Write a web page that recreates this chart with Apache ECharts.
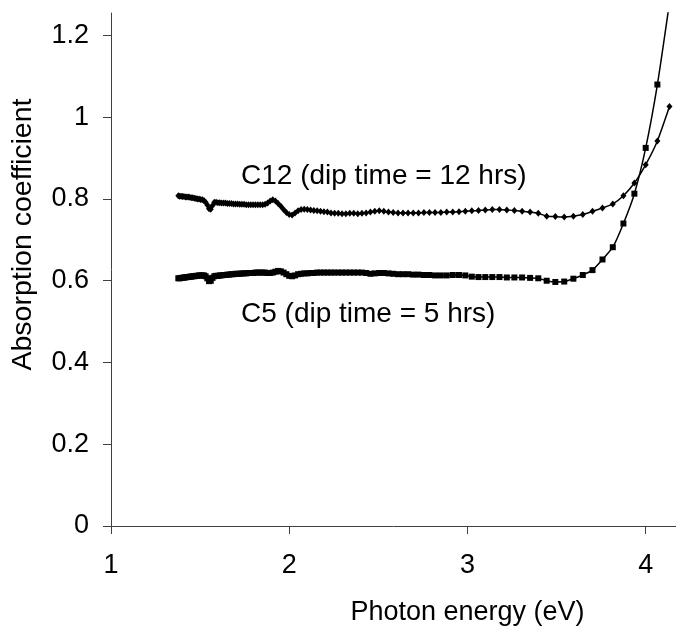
<!DOCTYPE html>
<html>
<head>
<meta charset="utf-8">
<script src="https://cdn.jsdelivr.net/npm/echarts@6/dist/echarts.min.js"></script>
<style>
html, body { margin: 0; padding: 0; background: #fff; }
#main { width: 676px; height: 631px; }
</style>
</head>
<body>
<div id="main"></div>
<script>
// measured wavelengths (nm), 5 nm steps, converted to photon energy E = 1240 / λ
const wavelengthNm = [
  900, 895, 890, 885, 880, 875, 870, 865, 860, 855,
  850, 845, 840, 835, 830, 825, 820, 815, 810, 805,
  800, 795, 790, 785, 780, 775, 770, 765, 760, 755,
  750, 745, 740, 735, 730, 725, 720, 715, 710, 705,
  700, 695, 690, 685, 680, 675, 670, 665, 660, 655,
  650, 645, 640, 635, 630, 625, 620, 615, 610, 605,
  600, 595, 590, 585, 580, 575, 570, 565, 560, 555,
  550, 545, 540, 535, 530, 525, 520, 515, 510, 505,
  500, 495, 490, 485, 480, 475, 470, 465, 460, 455,
  450, 445, 440, 435, 430, 425, 420, 415, 410, 405,
  400, 395, 390, 385, 380, 375, 370, 365, 360, 355,
  350, 345, 340, 335, 330, 325, 320, 315, 310, 305,
  300
];

// C12 (dip time = 12 hrs)
const c12 = [
  0.808, 0.807, 0.807, 0.806, 0.806, 0.805, 0.805, 0.805, 0.804, 0.803,
  0.803, 0.802, 0.801, 0.800, 0.800, 0.799, 0.798, 0.796, 0.792, 0.785,
  0.776, 0.775, 0.784, 0.792, 0.792, 0.791, 0.791, 0.790, 0.790, 0.790,
  0.789, 0.789, 0.789, 0.788, 0.788, 0.788, 0.787, 0.787, 0.787, 0.786,
  0.786, 0.786, 0.786, 0.786, 0.786, 0.786, 0.786, 0.787, 0.790, 0.795,
  0.798, 0.795, 0.789, 0.782, 0.774, 0.767, 0.762, 0.761, 0.766, 0.771,
  0.774, 0.775, 0.774, 0.773, 0.772, 0.771, 0.770, 0.769, 0.768, 0.766,
  0.765, 0.765, 0.764, 0.764, 0.765, 0.765, 0.764, 0.765, 0.766, 0.768,
  0.770, 0.771, 0.770, 0.768, 0.767, 0.766, 0.766, 0.766, 0.766, 0.766,
  0.767, 0.767, 0.767, 0.767, 0.768, 0.768, 0.769, 0.770, 0.771, 0.772,
  0.773, 0.774, 0.774, 0.773, 0.772, 0.770, 0.768, 0.765, 0.758, 0.757,
  0.756, 0.758, 0.762, 0.770, 0.778, 0.788, 0.808, 0.839, 0.884, 0.942,
  1.026
];

// C5 (dip time = 5 hrs)
const c5 = [
  0.606, 0.606, 0.607, 0.607, 0.608, 0.608, 0.609, 0.609, 0.610, 0.610,
  0.611, 0.611, 0.612, 0.612, 0.613, 0.613, 0.613, 0.613, 0.611, 0.606,
  0.599, 0.600, 0.607, 0.611, 0.612, 0.612, 0.613, 0.613, 0.614, 0.614,
  0.615, 0.615, 0.616, 0.616, 0.617, 0.617, 0.617, 0.618, 0.618, 0.618,
  0.619, 0.619, 0.619, 0.620, 0.620, 0.620, 0.620, 0.620, 0.619, 0.619,
  0.620, 0.622, 0.624, 0.623, 0.620, 0.616, 0.612, 0.611, 0.613, 0.616,
  0.617, 0.618, 0.618, 0.619, 0.619, 0.620, 0.620, 0.620, 0.620, 0.620,
  0.620, 0.620, 0.620, 0.620, 0.620, 0.620, 0.620, 0.620, 0.619, 0.617,
  0.618, 0.619, 0.619, 0.618, 0.617, 0.616, 0.616, 0.616, 0.615, 0.615,
  0.614, 0.614, 0.613, 0.613, 0.613, 0.614, 0.614, 0.613, 0.610, 0.609,
  0.609, 0.609, 0.609, 0.608, 0.608, 0.608, 0.607, 0.606, 0.600, 0.597,
  0.598, 0.605, 0.614, 0.626, 0.652, 0.682, 0.740, 0.813, 0.925, 1.080,
  1.280
];

const xTicks = [1, 2, 3, 4];
const yTicks = [0, 0.2, 0.4, 0.6, 0.8, 1, 1.2];

const energy = wavelengthNm.map((w) => 1240 / w);
const pairs = (ys) => ys.map((y, i) => [energy[i], y]);

const font = "'Liberation Sans', Arial, sans-serif";
const axisColor = "#404040";

const myChart = echarts.init(document.getElementById("main"));
const option = {
  backgroundColor: "#fff",
  animation: false,
  grid: { left: 111, right: 0, top: 13, bottom: 102 },
  xAxis: {
    type: "value",
    min: 1,
    max: 4.17,
    name: "Photon energy (eV)",
    nameLocation: "middle",
    nameGap: 73,
    nameTextStyle: { fontFamily: font, fontSize: 27, color: "#000", padding: [0, 0, 0, 148] },
    splitLine: { show: false },
    axisLine: { lineStyle: { color: axisColor, width: 1 } },
    axisTick: { customValues: xTicks, length: 8, lineStyle: { color: axisColor } },
    axisLabel: { customValues: xTicks, margin: 26, fontFamily: font, fontSize: 27, color: "#000" },
  },
  yAxis: {
    type: "value",
    min: 0,
    max: 1.255,
    name: "Absorption coefficient",
    nameLocation: "middle",
    nameGap: 73,
    nameTextStyle: { fontFamily: font, fontSize: 28.5, color: "#000", padding: [0, 0, 0, 70] },
    splitLine: { show: false },
    axisLine: { show: true, lineStyle: { color: axisColor, width: 1 } },
    axisTick: { show: true, customValues: yTicks, length: 8, lineStyle: { color: axisColor } },
    axisLabel: { customValues: yTicks, margin: 22, fontFamily: font, fontSize: 27, color: "#000" },
  },
  graphic: [
    {
      type: "text",
      left: 241,
      top: 162,
      style: { text: "C12 (dip time = 12 hrs)", font: "28px " + font, fill: "#000" },
    },
    {
      type: "text",
      left: 241,
      top: 300,
      style: { text: "C5 (dip time = 5 hrs)", font: "28px " + font, fill: "#000" },
    },
  ],
  series: [
    {
      name: "C12",
      type: "line",
      data: pairs(c12),
      smooth: 0.2,
      symbol: "diamond",
      symbolSize: [6, 7],
      showAllSymbol: true,
      lineStyle: { color: "#000", width: 1.5 },
      itemStyle: { color: "#000" },
    },
    {
      name: "C5",
      type: "line",
      data: pairs(c5),
      smooth: 0.2,
      symbol: "rect",
      symbolSize: 6,
      showAllSymbol: true,
      lineStyle: { color: "#000", width: 1.5 },
      itemStyle: { color: "#000" },
    },
  ],
};
myChart.setOption(option);
</script>
</body>
</html>
